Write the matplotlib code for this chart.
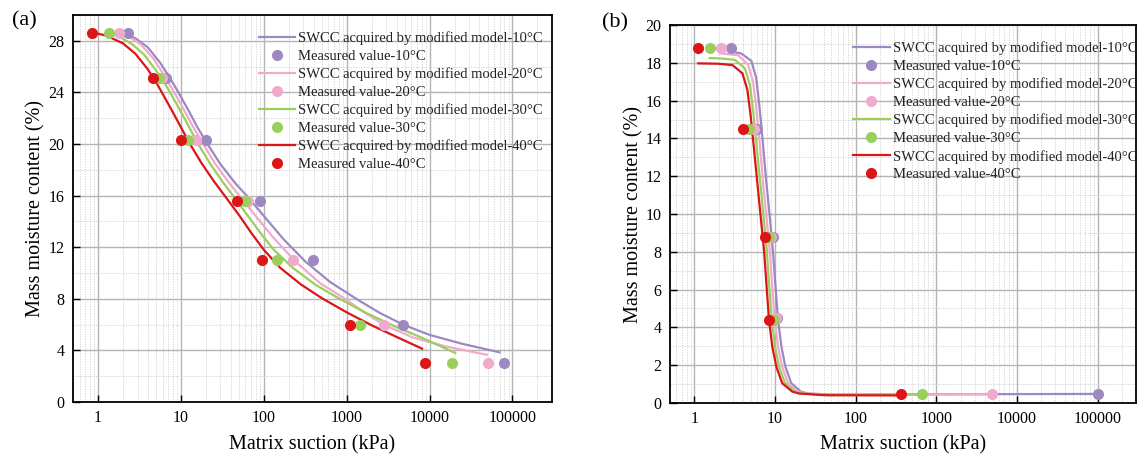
import numpy as np
import matplotlib
matplotlib.use("Agg")
from matplotlib import pyplot as plt
from matplotlib.ticker import FixedLocator, NullFormatter, LogLocator, MultipleLocator

plt.rcParams['font.family'] = ['Liberation Serif', 'DejaVu Serif']
plt.rcParams['mathtext.fontset'] = 'stix'

temps = ["10", "20", "30", "40"]
colors = ["#9d88c2", "#f0aacd", "#9acf5c", "#dc1518"]

# ---- panel (a): measured values ----
a_meas_y = [28.6, 25.1, 20.3, 15.6, 11.0, 6.0, 3.0]
a_meas_x10 = [2.32, 6.6, 20.1, 88.8, 395, 4810, 79600]
a_meas_x20 = [1.81, 5.9, 15.2, 65, 227, 2788, 50900]
a_meas_x30 = [1.36, 5.5, 12.1, 58.6, 144, 1435, 18900]
a_meas_x40 = [0.85, 4.64, 9.9, 48, 95.7, 1109, 8895]

# ---- panel (a): model curves ----
a_fit_x10 = [2.09, 2.82, 3.98, 5.62, 7.41, 9.33, 12.6, 15.8, 20.9, 29.5, 44.7, 66.1, 107, 174,
             316, 631, 1380, 2512, 4786, 10000, 25119, 69984]
a_fit_y10 = [28.5, 28.2, 27.5, 26.3, 25.1, 24.0, 22.5, 21.3, 20.0, 18.5, 17.0, 15.8, 14.2, 12.6,
             10.9, 9.3, 7.9, 6.9, 6.0, 5.2, 4.5, 3.85]
a_fit_x20 = [1.82, 2.40, 3.31, 4.68, 6.31, 8.32, 11.2, 14.1, 18.2, 25.7, 38.0, 55.0, 85.1, 132,
             240, 479, 955, 1585, 2786, 6310, 15849, 48978]
a_fit_y20 = [28.55, 28.3, 27.7, 26.6, 25.3, 24.0, 22.5, 21.3, 20.1, 18.5, 17.0, 15.7, 14.2, 12.7,
             10.9, 9.2, 8.0, 7.0, 6.0, 5.0, 4.3, 3.66]
a_fit_x30 = [1.32, 1.78, 2.63, 3.63, 5.01, 6.31, 7.41, 10.0, 12.6, 15.8, 22.4, 31.6, 44.7, 63.1,
             91.2, 132, 224, 417, 794, 1660, 3548, 7943, 20417]
a_fit_y30 = [28.6, 28.35, 27.7, 26.9, 25.7, 24.75, 24.0, 22.5, 21.3, 20.1, 18.5, 17.1, 15.8, 14.5,
             13.1, 11.8, 10.4, 9.1, 8.05, 6.95, 5.95, 5.0, 3.8]
a_fit_x40 = [0.851, 1.26, 2.0, 2.82, 3.98, 5.01, 5.89, 7.94, 10, 12.6, 17.8, 25.1, 35.5, 50.1,
             70.8, 100, 158, 282, 501, 1000, 1995, 3981, 8128]
a_fit_y40 = [28.65, 28.4, 27.8, 27.0, 25.8, 24.8, 24.0, 22.5, 21.3, 20.1, 18.5, 17.1, 15.8, 14.5,
             13.1, 11.8, 10.4, 9.1, 8.05, 6.95, 5.95, 5.05, 4.13]

# ---- panel (b): measured values ----
b_meas_y10 = [18.8, 14.5, 8.8, 4.5, 0.5]
b_meas_y20 = [18.8, 14.5, 8.8, 4.5, 0.5]
b_meas_y30 = [18.8, 14.5, 8.8, 4.4, 0.5]
b_meas_y40 = [18.8, 14.5, 8.8, 4.4, 0.5]
b_meas_x10 = [2.84, 6.05, 9.5, 10.7, 100000]
b_meas_x20 = [2.17, 5.5, 9.0, 10.4, 4870]
b_meas_x30 = [1.58, 4.78, 8.4, 9.7, 660]
b_meas_x40 = [1.12, 4.06, 7.53, 8.43, 360]

# ---- panel (b): model curves ----
b_fit_x10 = [2.7, 3.8, 5.1, 5.85, 6.45, 7.1, 7.8, 8.6, 9.4, 10.1, 10.9, 12.0, 13.4, 15.9, 21, 26, 50, 100000]
b_fit_y10 = [18.6, 18.5, 18.1, 17.2, 15.6, 13.7, 11.7, 9.9, 8.1, 6.3, 4.4, 3.0, 1.95, 1.05, 0.6, 0.5, 0.45, 0.48]
b_fit_x20 = [2.1, 3.5, 4.65, 5.35, 5.9, 6.5, 7.1, 7.8, 8.6, 9.2, 9.9, 10.9, 12.2, 14.5, 19, 24, 48, 4870]
b_fit_y20 = [18.5, 18.4, 17.9, 17.0, 15.5, 13.6, 11.7, 9.9, 8.1, 6.3, 4.4, 3.0, 1.95, 1.05, 0.6, 0.5, 0.43, 0.47]
b_fit_x30 = [1.55, 2.2, 3.2, 4.25, 4.9, 5.4, 5.95, 6.55, 7.2, 7.9, 8.45, 9.1, 10.0, 11.2, 13.3, 17.5, 22, 45, 660]
b_fit_y30 = [18.25, 18.23, 18.15, 17.7, 16.8, 15.35, 13.5, 11.7, 9.9, 8.1, 6.3, 4.4, 3.0, 1.95, 1.05, 0.6, 0.5, 0.42, 0.45]
b_fit_x40 = [1.12, 2.0, 2.97, 3.95, 4.55, 5.01, 5.51, 6.05, 6.65, 7.31, 7.82, 8.43, 9.27, 10.4, 12.3, 16.4, 20, 42.7, 360]
b_fit_y40 = [17.97, 17.95, 17.88, 17.44, 16.56, 15.15, 13.39, 11.62, 9.86, 8.10, 6.33, 4.39, 2.98, 1.92, 1.04, 0.60, 0.50, 0.41, 0.40]

xticks = [1, 10, 100, 1000, 10000, 100000]
xticklabels = ["1", "10", "100", "1000", "10000", "100000"]

fig = plt.figure(figsize=(11.45, 4.58), dpi=100)
axa = fig.add_axes([0.0638, 0.1223, 0.4183, 0.845])
axb = fig.add_axes([0.5852, 0.1201, 0.4070, 0.8253])


def style(ax, ymax, ystep, yminor):
    ax.set_xscale("log")
    ax.set_xlim(0.5, 3e5)
    ax.set_ylim(0, ymax)
    ax.xaxis.set_major_locator(FixedLocator(xticks))
    ax.set_xticklabels(xticklabels)
    ax.xaxis.set_minor_locator(LogLocator(base=10, subs=np.arange(2, 10), numticks=20))
    ax.xaxis.set_minor_formatter(NullFormatter())
    ax.yaxis.set_major_locator(MultipleLocator(ystep))
    ax.yaxis.set_minor_locator(MultipleLocator(yminor))
    ax.grid(True, which="major", color="#b4b4b4", lw=1.0, zorder=0)
    ax.grid(True, which="minor", color="#d0d0d0", lw=0.6, ls=(0, (1.5, 1.5)), zorder=0)
    ax.set_axisbelow(True)
    ax.tick_params(which="major", direction="in", length=5, width=1.0, labelsize=11.5, pad=6,
                   top=False, right=False)
    ax.tick_params(which="minor", length=0)
    for sp in ax.spines.values():
        sp.set_linewidth(1.3)
    ax.set_xlabel("Matrix suction (kPa)", fontsize=14.5)
    ax.set_ylabel("Mass moisture content (%)", fontsize=14.5)
    ax.xaxis.set_label_coords(0.5, -0.085)
    ax.yaxis.set_label_coords(-0.058, 0.5)


a_fits = [(a_fit_x10, a_fit_y10), (a_fit_x20, a_fit_y20), (a_fit_x30, a_fit_y30), (a_fit_x40, a_fit_y40)]
a_meas = [(a_meas_x10, a_meas_y), (a_meas_x20, a_meas_y), (a_meas_x30, a_meas_y), (a_meas_x40, a_meas_y)]
b_fits = [(b_fit_x10, b_fit_y10), (b_fit_x20, b_fit_y20), (b_fit_x30, b_fit_y30), (b_fit_x40, b_fit_y40)]
b_meas = [(b_meas_x10, b_meas_y10), (b_meas_x20, b_meas_y20), (b_meas_x30, b_meas_y30), (b_meas_x40, b_meas_y40)]

for ax, fits, meas, ymax, ystep, yminor, anchor in [
        (axa, a_fits, a_meas, 30, 4, 2, (0.3875, 0.957)),
        (axb, b_fits, b_meas, 20, 2, 1, (0.393, 0.956))]:
    style(ax, ymax, ystep, yminor)
    for t, c, (fx, fy), (mx, my) in zip(temps, colors, fits, meas):
        ax.plot(fx, fy, color=c, lw=1.6, zorder=3,
                label="SWCC acquired by modified model-" + t + "\u00b0C")
        ax.plot(mx, my, ls="none", marker="o", ms=8, color=c, mec="none", zorder=4,
                label="Measured value-" + t + "\u00b0C")
    leg = ax.legend(loc="upper left", bbox_to_anchor=anchor, frameon=False, fontsize=10.5,
                    handlelength=2.5, handletextpad=0.2, labelspacing=0.31, borderpad=0,
                    borderaxespad=0, numpoints=1)
    for txt in leg.get_texts():
        txt.set_color("#222222")

fig.text(0.0105, 0.954, "(a)", fontsize=16, va="center", ha="left")
fig.text(0.526, 0.951, "(b)", fontsize=16, va="center", ha="left")

fig.savefig("out.png", dpi=100)
